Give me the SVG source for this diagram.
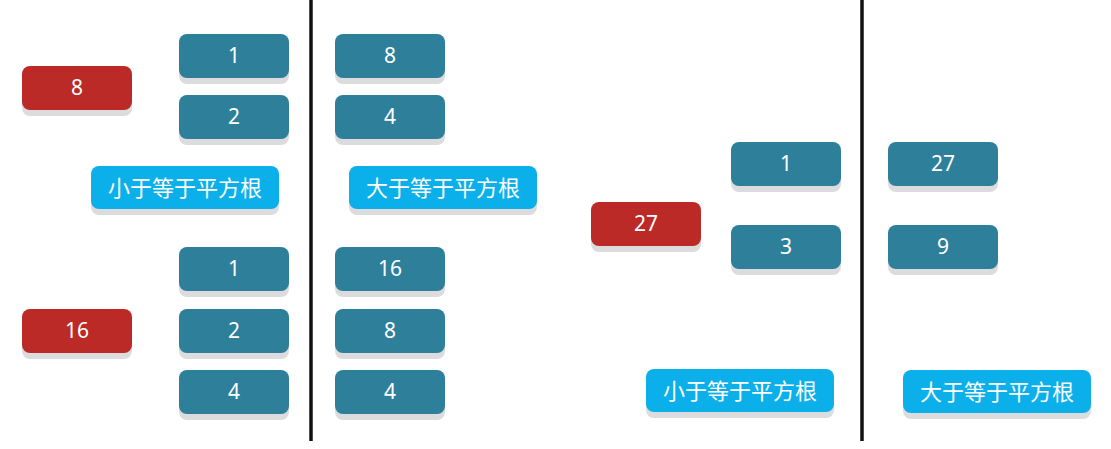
<svg xmlns="http://www.w3.org/2000/svg" width="1111" height="449" viewBox="0 0 1111 449">
<style>
.sh{fill:#dcdcde}
.t{fill:#2e7f9a}
.r{fill:#bb2a26}
.b{fill:#0bb0ea}
text{fill:#fff;font-family:"Noto Sans","Noto Sans CJK SC",sans-serif;font-size:21px;text-anchor:middle;dominant-baseline:central}
.cn{font-size:22px}
.div{stroke:#111;stroke-width:3.5}
</style>
<defs>
<g id="tb"><rect class="sh" x="0" y="6" width="110" height="44" rx="8"/><rect class="t" x="0" y="0" width="110" height="44" rx="8"/></g>
<g id="rb"><rect class="sh" x="0" y="6" width="110" height="44" rx="8"/><rect class="r" x="0" y="0" width="110" height="44" rx="8"/></g>
<g id="lb"><rect class="sh" x="0" y="6" width="188" height="43" rx="8"/><rect class="b" x="0" y="0" width="188" height="43" rx="8"/></g>
</defs>
<g id="dividers">
<line class="div" x1="311" y1="0" x2="311" y2="441"/>
<line class="div" x1="862" y1="0" x2="862" y2="441"/>
</g>
<g id="red8"><use href="#rb" x="22" y="66"/><text x="77" y="87">8</text></g>
<g id="red16"><use href="#rb" x="22" y="309"/><text x="77" y="330">16</text></g>
<g id="a1"><use href="#tb" x="179" y="34"/><text x="234" y="55">1</text></g>
<g id="a2"><use href="#tb" x="179" y="95"/><text x="234" y="116">2</text></g>
<g id="b8"><use href="#tb" x="335" y="34"/><text x="390" y="55">8</text></g>
<g id="b4"><use href="#tb" x="335" y="95"/><text x="390" y="116">4</text></g>
<g id="lbl1"><use href="#lb" x="91" y="166"/><text class="cn" x="185" y="187">小于等于平方根</text></g>
<g id="lbl2"><use href="#lb" x="349" y="166"/><text class="cn" x="443" y="187">大于等于平方根</text></g>
<g id="c1"><use href="#tb" x="179" y="247"/><text x="234" y="268">1</text></g>
<g id="c2"><use href="#tb" x="179" y="309"/><text x="234" y="330">2</text></g>
<g id="c4"><use href="#tb" x="179" y="370"/><text x="234" y="391">4</text></g>
<g id="d16"><use href="#tb" x="335" y="247"/><text x="390" y="268">16</text></g>
<g id="d8"><use href="#tb" x="335" y="309"/><text x="390" y="330">8</text></g>
<g id="d4"><use href="#tb" x="335" y="370"/><text x="390" y="391">4</text></g>
<g id="red27"><use href="#rb" x="591" y="202"/><text x="646" y="223">27</text></g>
<g id="e1"><use href="#tb" x="731" y="142"/><text x="786" y="163">1</text></g>
<g id="e3"><use href="#tb" x="731" y="225"/><text x="786" y="246">3</text></g>
<g id="f27"><use href="#tb" x="888" y="142"/><text x="943" y="163">27</text></g>
<g id="f9"><use href="#tb" x="888" y="225"/><text x="943" y="246">9</text></g>
<g id="lbl3"><use href="#lb" x="646" y="369"/><text class="cn" x="740" y="390">小于等于平方根</text></g>
<g id="lbl4"><use href="#lb" x="903" y="370"/><text class="cn" x="997" y="391">大于等于平方根</text></g>
</svg>
